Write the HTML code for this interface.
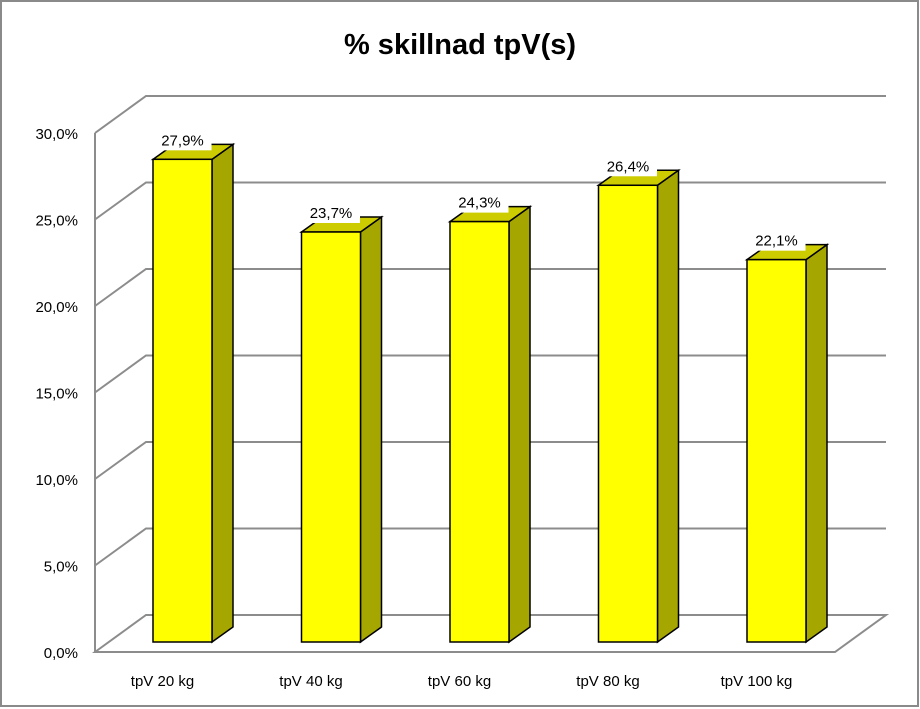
<!DOCTYPE html>
<html><head><meta charset="utf-8"><style>
html,body{margin:0;padding:0;background:#fff;}
svg{display:block;font-family:"Liberation Sans",sans-serif;}
</style></head><body>
<svg id="chart" width="920" height="709" xmlns="http://www.w3.org/2000/svg">
<rect x="1" y="1" width="917" height="705" fill="#fff" stroke="#8a8a8a" stroke-width="2"/>
<text x="460" y="54" text-anchor="middle" font-size="29" font-weight="bold" fill="#000">% skillnad tpV(s)</text>
<g id="grid"></g><g id="bars"></g><g id="labels"></g>
</svg>
<script>
const categories=["tpV 20 kg","tpV 40 kg","tpV 60 kg","tpV 80 kg","tpV 100 kg"];
const values=[27.9,23.7,24.3,26.4,22.1];
const valueLabels=["27,9%","23,7%","24,3%","26,4%","22,1%"];
const ticks=[0,5,10,15,20,25,30];
const tickLabels=["0,0%","5,0%","10,0%","15,0%","20,0%","25,0%","30,0%"];
const NS="http://www.w3.org/2000/svg";
const X0=95,Y0=652,PX=17.3,DX=51,DY=-37,XR=835;
function y(v){return Y0-v*PX;}
function mk(t,a,p){const e=document.createElementNS(NS,t);for(const k in a)e.setAttribute(k,a[k]);p.appendChild(e);return e;}
const grid=document.getElementById('grid'),bars=document.getElementById('bars'),lab=document.getElementById('labels');
const gc="#8c8c8c";
ticks.forEach((t,i)=>{
  if(i>0){const g=mk('polyline',{points:`${X0},${y(t)} ${X0+DX},${y(t)+DY} ${XR+DX},${y(t)+DY}`,fill:'none',stroke:gc,'stroke-width':2},grid);
  
  }
  const tx=mk('text',{x:78,y:y(t)+6,'text-anchor':'end','font-size':15,fill:'#000'},lab);
  tx.textContent=tickLabels[i];
  
  
});
const floor=mk('polygon',{points:`${X0},${Y0} ${X0+DX},${Y0+DY} ${XR+DX},${Y0+DY} ${XR},${Y0}`,fill:'none',stroke:gc,'stroke-width':2},grid);


const ax=mk('line',{x1:X0,y1:y(30),x2:X0,y2:Y0,stroke:gc,'stroke-width':2},grid);


const step=148.5,bw=59,bx0=153,base=642,sdx=21,sdy=-15;
values.forEach((v,i)=>{
  const x=bx0+i*step,top=base-v*PX;
  const g=mk('g',{},bars);
  
  
  mk('polygon',{points:`${x+bw},${top} ${x+bw+sdx},${top+sdy} ${x+bw+sdx},${base+sdy} ${x+bw},${base}`,fill:'#a6a600',stroke:'#000','stroke-width':1.5},g);
  mk('polygon',{points:`${x},${top} ${x+sdx},${top+sdy} ${x+bw+sdx},${top+sdy} ${x+bw},${top}`,fill:'#cccc00',stroke:'#000','stroke-width':1.5},g);
  mk('rect',{x:x,y:top,width:bw,height:base-top,fill:'#ffff00',stroke:'#000','stroke-width':1.5},g);
  const cx=x+bw/2;
  const bg=mk('rect',{x:cx-29,y:top-31,width:58,height:22,fill:'#fff'},lab);
  
  
  const t=mk('text',{x:cx,y:top-14,'text-anchor':'middle','font-size':15,fill:'#000'},lab);
  t.textContent=valueLabels[i];
  
  
  const c=mk('text',{x:cx-20,y:686,'text-anchor':'middle','font-size':15,fill:'#000'},lab);
  c.textContent=categories[i];
  
  
});
</script>
</body></html>
